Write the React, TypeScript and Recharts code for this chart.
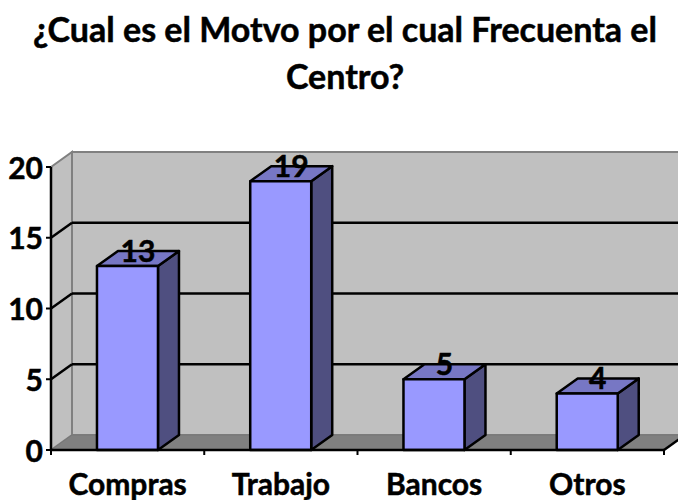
import React from 'react'
import { BarChart, Bar, XAxis, YAxis, ReferenceArea, ReferenceLine, LabelList } from 'recharts'

const categories = ['Compras', 'Trabajo', 'Bancos', 'Otros']
const values = [13, 19, 5, 4]
const yTicks = [0, 5, 10, 15, 20]
const gridValues = [5, 10, 15]

const chartData = categories.map((name, i) => ({ name, value: values[i] }))

const font = 'Lato, "Open Sans", sans-serif'
// 3D offset of the back wall
const DX = 21
const DY = -15

// Lato bold is a little thinner than the original face, so thicken it slightly
const tickStyle = { fontFamily: font, fontWeight: 700, fontSize: 30, fill: '#000', stroke: '#000', strokeWidth: 0.5 }

function Walls({ x, y, width, height }: any) {
  const bottom = y + height
  const right = x + width
  const step = width / categories.length
  return (
    <g>
      {/* back wall */}
      <rect x={x + DX} y={y + DY} width={width} height={height} fill="#c0c0c0" stroke="#808080" strokeWidth={2} />
      {/* side wall */}
      <polygon
        points={`${x},${y} ${x + DX},${y + DY} ${x + DX},${bottom + DY} ${x},${bottom}`}
        fill="#c0c0c0"
        stroke="#808080"
        strokeWidth={2}
      />
      {/* floor */}
      <polygon
        points={`${x},${bottom} ${x + DX},${bottom + DY} ${right + DX},${bottom + DY} ${right},${bottom}`}
        fill="#808080"
        stroke="#777777"
        strokeWidth={1}
      />
      <line x1={right} y1={bottom} x2={right + DX} y2={bottom + DY} stroke="#000" strokeWidth={2.5} />
      {[0, 1, 2, 3, 4].map((i) => (
        <line key={i} x1={x + i * step} y1={bottom} x2={x + i * step} y2={bottom + 5} stroke="#000" strokeWidth={2} />
      ))}
    </g>
  )
}

function BackGridLine({ x1, y1, x2 }: any) {
  return (
    <g>
      <line x1={x1} y1={y1} x2={x1 + DX} y2={y1 + DY} stroke="#000" strokeWidth={2.5} />
      <line x1={x1 + DX} y1={y1 + DY} x2={x2 + DX} y2={y1 + DY} stroke="#000" strokeWidth={2.5} />
    </g>
  )
}

function Box3D({ x, y, width, height }: any) {
  const right = x + width
  const bottom = y + height
  return (
    <g stroke="#000" strokeWidth={2.5} strokeLinejoin="round">
      <polygon
        points={`${right},${y} ${right + DX},${y + DY} ${right + DX},${bottom + DY} ${right},${bottom}`}
        fill="#4f4f80"
      />
      <polygon
        points={`${x},${y} ${x + DX},${y + DY} ${right + DX},${y + DY} ${right},${y}`}
        fill="#7777c4"
      />
      <rect x={x} y={y} width={width} height={height} fill="#9999ff" />
    </g>
  )
}

function ValueLabel({ x, y, width, value }: any) {
  return (
    <text x={x + width / 2 + 10.5} y={y - 4} textAnchor="middle" style={tickStyle}>
      {value}
    </text>
  )
}

export default function App() {
  return (
    <div style={{ position: 'absolute', left: 0, top: 0, width: 678, height: 500, overflow: 'hidden', background: '#fff' }}>
      <div
        style={{
          position: 'absolute',
          left: 0,
          top: 5,
          width: 690,
          textAlign: 'center',
          fontFamily: font,
          fontWeight: 700,
          fontSize: 34,
          lineHeight: '47px',
          color: '#000',
          WebkitTextStroke: '0.5px #000',
        }}
      >
        ¿Cual es el Motvo por el cual Frecuenta el
        <br />
        Centro?
      </div>
      <BarChart
        width={678}
        height={500}
        data={chartData}
        barCategoryGap="30%"
        margin={{ top: 167, right: 14, bottom: 0, left: 0 }}
      >
        <XAxis
          dataKey="name"
          axisLine={{ stroke: '#000', strokeWidth: 2.5 }}
          tickLine={false}
          height={50}
          tickMargin={18}
          tick={tickStyle}
        />
        <YAxis
          domain={[0, 20]}
          ticks={yTicks}
          width={51}
          axisLine={{ stroke: '#000', strokeWidth: 2.5 }}
          tickLine={{ stroke: '#000', strokeWidth: 2 }}
          tickSize={5}
          tickMargin={3}
          dy={1}
          tick={tickStyle}
        />
        <ReferenceArea y1={0} y2={20} shape={Walls} ifOverflow="visible" zIndex={-1} />
        {gridValues.map((v) => (
          <ReferenceLine key={v} y={v} shape={BackGridLine} ifOverflow="visible" zIndex={-1} />
        ))}
        <Bar dataKey="value" shape={Box3D} isAnimationActive={false}>
          <LabelList dataKey="value" content={ValueLabel} />
        </Bar>
      </BarChart>
    </div>
  )
}
